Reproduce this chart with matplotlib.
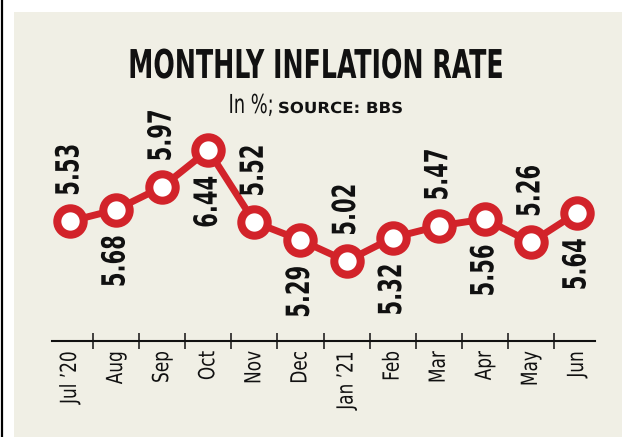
import matplotlib
matplotlib.use('Agg')
import matplotlib.pyplot as plt
from matplotlib.patheffects import AbstractPathEffect
from matplotlib.transforms import Affine2D
from matplotlib.patches import Rectangle
from matplotlib.lines import Line2D

# Data
months = ['Jul ’20', 'Aug', 'Sep', 'Oct', 'Nov', 'Dec',
          'Jan ’21', 'Feb', 'Mar', 'Apr', 'May', 'Jun']
inflation = [5.53, 5.68, 5.97, 6.44, 5.52, 5.29, 5.02, 5.32, 5.47, 5.56, 5.26, 5.64]
label_side = ['above', 'below', 'above', 'below', 'above', 'below',
              'above', 'below', 'above', 'below', 'above', 'below']

RED = '#d2232a'
BEIGE = '#f0efe5'
INK = '#111111'
FONT = 'DejaVu Sans'

W, H = 622, 437


class Squeeze(AbstractPathEffect):
    """Scale text along its own direction, keeping one end (or the middle) fixed."""
    def __init__(self, sx, anchor='left'):
        super().__init__()
        self.sx = sx
        self.anchor = anchor

    def draw_path(self, renderer, gc, tpath, affine, rgbFace=None):
        ext = tpath.get_extents()
        xa = {'left': ext.x0, 'right': ext.x1, 'center': (ext.x0 + ext.x1) / 2}[self.anchor]
        t = Affine2D().translate(-xa, 0).scale(self.sx, 1).translate(xa, 0)
        renderer.draw_path(gc, tpath, t + affine, rgbFace)


fig = plt.figure(figsize=(W / 100, H / 100), dpi=100)
fig.patch.set_facecolor('white')
renderer = fig.canvas.get_renderer()


def text_width(s, **kw):
    t = fig.text(0, 0, s, **kw)
    w = t.get_window_extent(renderer).width
    t.remove()
    return w


def fit_text(t, target_px, anchor='left'):
    bb = t.get_window_extent(renderer)
    t.set_path_effects([Squeeze(target_px / bb.width, anchor)])


# beige panel and thin black rule on the left
fig.patches.append(Rectangle((14 / W, 0), 1 - 14 / W, 1 - 12 / H,
                             transform=fig.transFigure, facecolor=BEIGE,
                             edgecolor='none', zorder=-2))
fig.lines.append(Line2D([1.5 / W, 1.5 / W], [0, 1], transform=fig.transFigure,
                        color='black', lw=1.6, zorder=-1))

# axes: x from 52px to 595px, y bottom at 341px (value 4.0), 78.2 px per unit
ax = fig.add_axes([52 / W, (H - 341) / H, (595 - 52) / W, (341 - 122) / H])
ax.set_zorder(1)
ax.set_facecolor('none')
x = list(range(len(months)))
ax.plot(x, inflation, color=RED, lw=5, zorder=2, clip_on=False,
        marker='o', markersize=19, markerfacecolor='white',
        markeredgecolor=RED, markeredgewidth=5.8)
ax.set_xlim(-0.39, len(months) - 1 + 0.39)
ax.set_ylim(4.0, 6.8)

num_kw = dict(fontsize=23, fontweight='bold', family=FONT, fontstretch='condensed')
num_sx = 52 / text_width('5.53', **num_kw)
for xi, v, side in zip(x, inflation, label_side):
    off = 18 if side == 'above' else -18
    a = ax.annotate(f'{v:.2f}', (xi, v), xytext=(0, off), textcoords='offset points',
                    rotation=90, ha='center',
                    va='bottom' if side == 'above' else 'top',
                    color=INK, annotation_clip=False, **num_kw)
    a.set_path_effects([Squeeze(num_sx, 'left' if side == 'above' else 'right')])

for s in ['top', 'right', 'left']:
    ax.spines[s].set_visible(False)
ax.spines['bottom'].set_linewidth(1.5)
ax.spines['bottom'].set_color(INK)
ax.set_yticks([])
ax.set_xticks(x)
tick_kw = dict(fontsize=16, family=FONT, fontstretch='condensed')
tick_sx = 53 / text_width(months[0], **tick_kw)
ax.set_xticklabels(months, rotation=90, color=INK, **tick_kw)
for lab in ax.get_xticklabels():
    lab.set_path_effects([Squeeze(tick_sx, 'right')])
ax.set_xticks([i + 0.5 for i in x[:-1]], minor=True)
ax.tick_params(axis='x', which='major', length=0, pad=7)
ax.tick_params(axis='x', which='minor', direction='inout', length=12,
               width=1.1, color=INK)

# title and subtitle
title = fig.text(315.5 / W, 1 - 78 / H, 'MONTHLY INFLATION RATE', ha='center',
                 va='baseline', fontsize=28.6, fontweight='bold', family=FONT,
                 fontstretch='condensed', color=INK)
fit_text(title, 375, 'center')
sub1 = fig.text(228 / W, 1 - 113 / H, 'In %;', ha='left', va='baseline',
                fontsize=18.8, family=FONT, fontstretch='condensed', color=INK)
fit_text(sub1, 45)
sub2 = fig.text(278 / W, 1 - 113 / H, 'SOURCE: BBS', ha='left', va='baseline',
                fontsize=11, fontweight='bold', family=FONT, color=INK)
fit_text(sub2, 125)

fig.savefig('out.png', dpi=100, facecolor=fig.get_facecolor())
